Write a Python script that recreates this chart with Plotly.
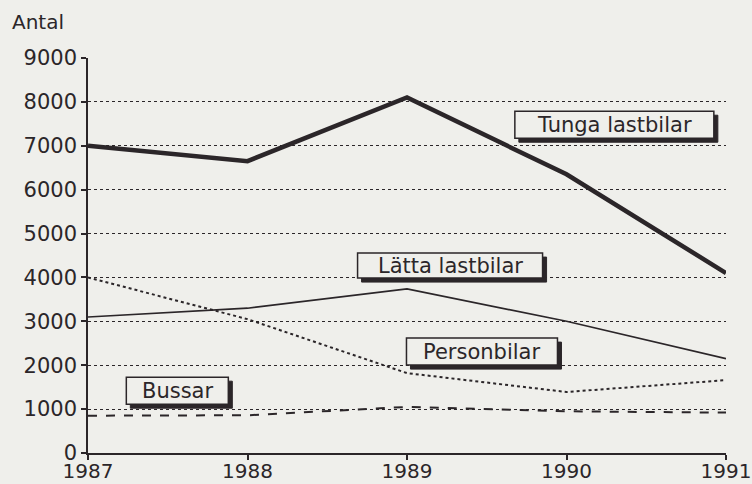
import plotly.graph_objects as go

years = [1987, 1988, 1989, 1990, 1991]
tunga = [7000, 6650, 8100, 6350, 4100]
latta = [3100, 3300, 3740, 3000, 2150]
person = [4000, 3050, 1820, 1390, 1660]
bussar = [850, 860, 1050, 950, 920]

y_ticks = [0, 1000, 2000, 3000, 4000, 5000, 6000, 7000, 8000, 9000]
x_ticks = [1987, 1988, 1989, 1990, 1991]

labels = ["Tunga lastbilar", "Lätta lastbilar", "Personbilar", "Bussar"]
label_x = [1990.30, 1989.27, 1989.47, 1987.56]
label_y = [7480, 4270, 2310, 1420]
label_w = [199, 185, 151, 102]
label_h = [27, 25, 27, 27]

INK = "#2b2629"
BG = "#efefeb"
FONT = "DejaVu Sans"

fig = go.Figure()
fig.add_trace(go.Scatter(x=years, y=tunga, mode="lines", line=dict(color=INK, width=4.5), name="Tunga lastbilar"))
fig.add_trace(go.Scatter(x=years, y=latta, mode="lines", line=dict(color=INK, width=1.6), name="Lätta lastbilar"))
fig.add_trace(go.Scatter(x=years, y=person, mode="lines", line=dict(color=INK, width=2, dash="dot"), name="Personbilar"))
fig.add_trace(go.Scatter(x=years, y=bussar, mode="lines", line=dict(color=INK, width=2, dash="dash"), name="Bussar"))

for t, x, y, w, h in zip(labels, label_x, label_y, label_w, label_h):
    # shadow
    fig.add_shape(type="rect", xref="x", yref="y", xsizemode="pixel", ysizemode="pixel",
                  xanchor=x, yanchor=y, x0=-w / 2 + 4, x1=w / 2 + 4, y0=-h / 2 - 4, y1=h / 2 - 4,
                  fillcolor=INK, line=dict(color=INK, width=1), layer="above")
    fig.add_shape(type="rect", xref="x", yref="y", xsizemode="pixel", ysizemode="pixel",
                  xanchor=x, yanchor=y, x0=-w / 2, x1=w / 2, y0=-h / 2, y1=h / 2,
                  fillcolor=BG, line=dict(color=INK, width=1.5), layer="above")
    fig.add_annotation(x=x, y=y, text=t, showarrow=False,
                       font=dict(family=FONT, size=21, color=INK))

fig.add_annotation(text="Antal", xref="paper", yref="paper", x=(10 - 88) / 638, y=(453 - 22) / 395,
                   xanchor="left", yanchor="middle", showarrow=False,
                   font=dict(family=FONT, size=20, color=INK))

fig.update_layout(
    width=752, height=484,
    margin=dict(l=88, r=26, t=58, b=31, autoexpand=False),
    paper_bgcolor=BG, plot_bgcolor=BG,
    showlegend=False,
    font=dict(family=FONT, size=21, color=INK),
)
fig.update_xaxes(range=[1987, 1991], tickvals=x_ticks, ticktext=[str(v) for v in x_ticks],
                 showgrid=False, zeroline=False, showline=True, linecolor=INK, linewidth=1.5,
                 ticks="outside", ticklen=5, tickcolor=INK, tickwidth=1.5,
                 tickfont=dict(size=20), ticklabelstandoff=-6,
                 automargin=False, ticklabeloverflow="allow")
fig.update_yaxes(range=[0, 9000], tickvals=y_ticks, ticktext=[str(v) for v in y_ticks],
                 showgrid=True, gridcolor=INK, gridwidth=1.2, griddash="dot", zeroline=False,
                 showline=True, linecolor=INK, linewidth=1.5,
                 ticks="outside", ticklen=5, tickcolor=INK, tickwidth=1.5,
                 automargin=False, ticklabeloverflow="allow")

fig.write_html("out.html", config={"displayModeBar": False},
               post_script="document.body.style.margin='0';document.body.style.background='#efefeb';document.body.style.overflow='hidden';")
